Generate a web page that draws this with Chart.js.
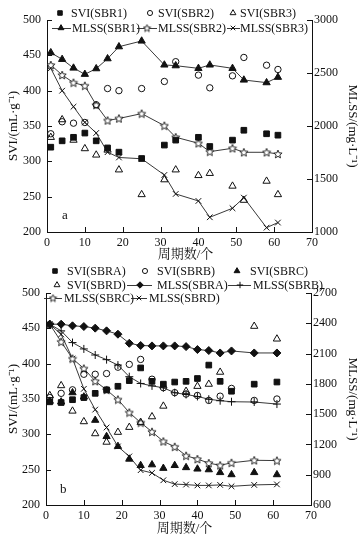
<!DOCTYPE html>
<html><head><meta charset="utf-8">
<script src="https://cdn.jsdelivr.net/npm/chart.js@4.4.1/dist/chart.umd.min.js"></script>
<style>
html,body{margin:0;padding:0;background:#fff;}
#wrap{position:relative;width:362px;height:540px;overflow:hidden;background:#fff;}
canvas{position:absolute;left:0;}
</style></head><body>
<div id="wrap">
<canvas id="c1" width="362" height="265" style="top:0px"></canvas>
<canvas id="c2" width="362" height="275" style="top:265px"></canvas>
</div>
<script>
// ---------- data: panel a ----------
const cyclesA = [1,4,7,10,13,16,19,25,31,34,40,43,49,52,58,61];
const sviSBR1 = [320,329,334,340,329,319,313,304,323,330,334,321,330,344,339,337];
const sviSBR2 = [339,356,354,355,380,403,400,403,413,441,422,404,421,447,436,430];
const sviSBR3 = [334,359,330,318,309,316,288,253,274,288,280,283,265,245,272,253];
const mlssSBR1 = [2692,2629,2547,2488,2541,2635,2748,2802,2576,2569,2544,2576,2544,2434,2409,2460];
const mlssSBR2 = [2576,2481,2409,2380,2198,2052,2071,2117,2003,1894,1837,1758,1790,1752,1752,1736];
const mlssSBR3 = [2544,2333,2182,2034,1934,1753,1703,1691,1538,1359,1293,1139,1224,1324,1041,1089];

// ---------- data: panel b ----------
const cyclesB = [1,4,7,10,13,16,19,22,25,28,31,34,37,40,43,46,49,55,61];
const sviSBRA = [346,345,349,352,358,363,368,376,394,375,371,374,375,379,398,375,361,371,374];
const sviSBRB = [352,358,363,385,385,386,395,399,406,378,366,359,357,355,348,354,365,348,350];
const sviSBRC = [347,346,359,353,320,297,283,265,256,257,252,256,253,251,250,246,243,246,243];
const sviSBRD = [355,369,333,318,301,289,303,310,317,325,340,null,361,368,371,388,null,453,435];
const mlssSBRA = [2391,2391,2375,2368,2352,2325,2292,2202,2180,2176,2176,2176,2169,2140,2130,2106,2126,2106,2106];
const mlssSBRB = [2391,2325,2209,2146,2086,2040,1986,1871,1804,1780,1761,1712,1695,1675,1648,1633,1623,1620,1600];
const mlssSBRC = [2391,2217,2050,1952,1827,1740,1645,1516,1416,1325,1230,1177,1088,1055,1015,993,1018,1043,1040];
const mlssSBRD = [2391,2290,2050,1751,1545,1368,1180,1081,945,918,845,807,802,794,794,799,785,799,804];

// ---------- labels / ticks ----------
const xTitle = '周期数/个';
const yLeftTitle = 'SVI/(mL·g⁻¹)';
const yRightTitle = 'MLSS/(mg·L⁻¹)';
const xRange = [0, 70, 10];
const sviRange = [200, 500, 50];
const mlssRangeA = [1000, 3000, 500];
const mlssRangeB = [600, 2700, 300];

const FONT = '"Liberation Serif", "Noto Serif CJK SC", "Noto Sans CJK SC", serif';
const INK = '#111';

function starImg(size){
  const c=document.createElement('canvas'); c.width=c.height=size;
  const g=c.getContext('2d');
  const cx=size/2, cy=size/2+0.4, R=size/2-0.7, r=R*0.45;
  g.beginPath();
  for(let i=0;i<10;i++){const a=-Math.PI/2+i*Math.PI/5; const rr=i%2?r:R; g.lineTo(cx+rr*Math.cos(a), cy+rr*Math.sin(a));}
  g.closePath(); g.fillStyle='#fff'; g.fill(); g.lineWidth=0.9; g.strokeStyle=INK; g.stroke();
  return c;
}
const STAR = starImg(10);
const STAR_SMALL = starImg(9);

function pts(xs, ys){ return xs.map((x,i)=>({x:x, y:ys[i]})); }
function sviDs(label, xs, ys, style, filled, r){
  return {label, data:pts(xs,ys), yAxisID:'y', showLine:false, pointStyle:style, pointRadius:r, pointHoverRadius:r,
    pointBackgroundColor: filled?INK:'rgba(0,0,0,0)', pointBorderColor:INK, pointBorderWidth:1, borderColor:INK, backgroundColor:INK};
}
function mlssDs(label, xs, ys, style, filled, r){
  return {label, data:pts(xs,ys), yAxisID:'y1', showLine:true, borderColor:'#222', borderWidth:0.9, tension:0,
    pointStyle:style, pointRadius:r, pointHoverRadius:r,
    pointBackgroundColor: filled?INK:'#fff', pointBorderColor:INK, pointBorderWidth:1, backgroundColor:INK};
}

function drawMarker(ctx, ds, x, y){
  ctx.save();
  ctx.fillStyle = ds.pointBackgroundColor; ctx.strokeStyle = ds.pointBorderColor; ctx.lineWidth = ds.pointBorderWidth;
  const style = (ds.pointStyle === STAR) ? STAR_SMALL : ds.pointStyle;
  if (Chart.helpers && Chart.helpers.drawPoint) {
    Chart.helpers.drawPoint(ctx, {pointStyle: style, radius: ds.pointRadius*0.8, rotation:0, borderWidth: ds.pointBorderWidth}, x, y);
  }
  ctx.restore();
}

const innerTicks = {
  id:'innerTicks',
  afterDraw(chart){
    const {ctx, chartArea:a, scales} = chart;
    ctx.save(); ctx.strokeStyle=INK; ctx.lineWidth=1; ctx.beginPath();
    scales.x.ticks.forEach(t=>{const p=Math.round(scales.x.getPixelForValue(t.value))+0.5; ctx.moveTo(p,a.bottom); ctx.lineTo(p,a.bottom-5);});
    scales.y.ticks.forEach(t=>{const p=Math.round(scales.y.getPixelForValue(t.value))+0.5; ctx.moveTo(a.left,p); ctx.lineTo(a.left+5,p);});
    scales.y1.ticks.forEach(t=>{const p=Math.round(scales.y1.getPixelForValue(t.value))+0.5; ctx.moveTo(a.right,p); ctx.lineTo(a.right-5,p);});
    ctx.stroke(); ctx.restore();
  }
};

function legendPlugin(items, tag, titleY){
  return {
    id:'customLegend',
    afterDraw(chart){
      const ctx=chart.ctx; ctx.save();
      ctx.font='12px '+FONT; ctx.textBaseline='middle'; ctx.textAlign='left';
      items.forEach(it=>{
        const ds=chart.data.datasets[it.ds];
        if(it.line){ ctx.strokeStyle='#222'; ctx.lineWidth=0.9; ctx.beginPath(); ctx.moveTo(it.line[0], it.y+0.5); ctx.lineTo(it.line[1], it.y+0.5); ctx.stroke(); }
        drawMarker(ctx, ds, it.mx, it.y);
        ctx.fillStyle=INK; ctx.fillText(ds.label, it.tx, it.y+1);
      });
      ctx.font='13px '+FONT; ctx.fillStyle=INK; ctx.fillText(tag.text, tag.x, tag.y);
      // x axis title, centred under the plot area
      const a = chart.chartArea;
      ctx.textAlign='center';
      ctx.fillText(xTitle, (a.left+a.right)/2 + 6, titleY);
      ctx.restore();
    }
  };
}

function axes(mlssRange, leftW, rightW, xH){
  const tickFont = {family:FONT, size:12};
  const titleFont = {family:FONT, size:13};
  const plain = v => String(v);
  return {
    x:{type:'linear', min:xRange[0], max:xRange[1], ticks:{stepSize:xRange[2], color:INK, font:tickFont, padding:4, maxRotation:0, callback:plain},
       grid:{display:false, drawTicks:false}, border:{display:true, color:INK, width:1},
       title:{display:false, text:xTitle},
       afterFit(s){ s.height = xH; }},
    y:{type:'linear', position:'left', min:sviRange[0], max:sviRange[1], ticks:{stepSize:sviRange[2], color:INK, font:tickFont, padding:6, callback:plain},
       grid:{display:false, drawTicks:false}, border:{display:true, color:INK, width:1},
       title:{display:true, text:yLeftTitle, color:INK, font:titleFont, padding:{top:6,bottom:0}},
       afterFit(s){ s.width = leftW; }},
    y1:{type:'linear', position:'right', min:mlssRange[0], max:mlssRange[1], ticks:{stepSize:mlssRange[2], color:INK, font:tickFont, padding:2, callback:plain},
       grid:{display:false, drawTicks:false}, border:{display:true, color:INK, width:1},
       title:{display:true, text:yRightTitle, color:INK, font:titleFont, padding:{top:2,bottom:2}},
       afterFit(s){ s.width = rightW; }}
  };
}

const common = {responsive:false, animation:false, devicePixelRatio:1,
  plugins:{legend:{display:false}, tooltip:{enabled:false}}};

// ---------- chart a ----------
const dsA = [
  sviDs('SVI(SBR1)', cyclesA, sviSBR1, 'rect', true, 4),
  sviDs('SVI(SBR2)', cyclesA, sviSBR2, 'circle', false, 3.2),
  sviDs('SVI(SBR3)', cyclesA, sviSBR3, 'triangle', false, 4.2),
  mlssDs('MLSS(SBR1)', cyclesA, mlssSBR1, 'triangle', true, 4.2),
  mlssDs('MLSS(SBR2)', cyclesA, mlssSBR2, STAR, false, 5),
  mlssDs('MLSS(SBR3)', cyclesA, mlssSBR3, 'crossRot', false, 4)
];
new Chart(document.getElementById('c1'), {
  type:'line', data:{datasets:dsA},
  options:Object.assign({}, common, {layout:{padding:{top:20,left:0,right:0,bottom:0}}, scales:axes(mlssRangeA,47,50,33)}),
  plugins:[innerTicks, legendPlugin([
    {ds:0, mx:60, tx:71, y:13},
    {ds:1, mx:150, tx:158, y:13},
    {ds:2, mx:233, tx:240, y:13},
    {ds:3, mx:61, tx:72, y:28, line:[52,71]},
    {ds:4, mx:147, tx:158, y:28, line:[137,157]},
    {ds:5, mx:233, tx:240, y:28, line:[227,240]}
  ], {text:'a', x:62, y:216}, 255)]
});

// ---------- chart b ----------
const dsB = [
  sviDs('SVI(SBRA)', cyclesB, sviSBRA, 'rect', true, 4),
  sviDs('SVI(SBRB)', cyclesB, sviSBRB, 'circle', false, 3.2),
  sviDs('SVI(SBRC)', cyclesB, sviSBRC, 'triangle', true, 4.2),
  sviDs('SVI(SBRD)', cyclesB, sviSBRD, 'triangle', false, 4.2),
  mlssDs('MLSS(SBRA)', cyclesB, mlssSBRA, 'rectRot', true, 4),
  mlssDs('MLSS(SBRB)', cyclesB, mlssSBRB, 'cross', false, 4),
  mlssDs('MLSS(SBRC)', cyclesB, mlssSBRC, STAR, false, 5),
  mlssDs('MLSS(SBRD)', cyclesB, mlssSBRD, 'crossRot', false, 4)
];
new Chart(document.getElementById('c2'), {
  type:'line', data:{datasets:dsB},
  options:Object.assign({}, common, {layout:{padding:{top:28,left:0,right:0,bottom:0}}, scales:axes(mlssRangeB,46,51,35)}),
  plugins:[innerTicks, legendPlugin([
    {ds:0, mx:55, tx:67, y:6},
    {ds:1, mx:145, tx:157, y:6},
    {ds:2, mx:237, tx:250, y:6},
    {ds:3, mx:57, tx:67, y:20},
    {ds:4, mx:140, tx:157, y:20, line:[127,152]},
    {ds:5, mx:240, tx:253, y:20, line:[228,251]},
    {ds:6, mx:53, tx:64, y:33, line:[44,62]},
    {ds:7, mx:139, tx:149, y:33, line:[131,147]}
  ], {text:'b', x:60, y:225}, 264)]
});
</script>
</body></html>
